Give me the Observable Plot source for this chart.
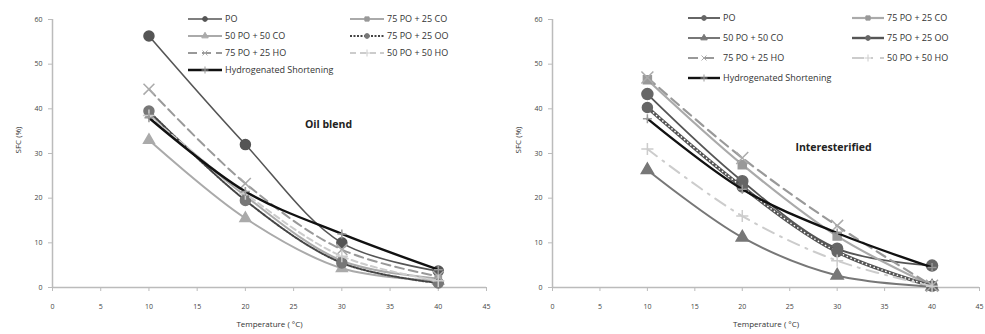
<!DOCTYPE html>
<html><head><meta charset="utf-8">
<script src="https://cdn.jsdelivr.net/npm/d3@7"></script>
<script src="https://cdn.jsdelivr.net/npm/@observablehq/plot@0.6"></script>
<style>
body{margin:0;background:#fff;overflow:hidden}
#wrap{position:relative;width:985px;height:334px;overflow:hidden;font-family:"Open Sans",sans-serif}
.panel{position:absolute;top:0}
#overlay{position:absolute;left:0;top:0}
</style></head><body><div id="wrap"></div>
<script>
// ---- data ----
const temps = [10, 20, 30, 40];
const xTicks = [0, 5, 10, 15, 20, 25, 30, 35, 40, 45];
const yTicks = [0, 10, 20, 30, 40, 50, 60];
const seriesNames = ["PO", "75 PO + 25 CO", "50 PO + 50 CO", "75 PO + 25 OO", "75 PO + 25 HO", "50 PO + 50 HO", "Hydrogenated Shortening"];
const panelTitles = ["Oil blend", "Interesterified"];
// Oil blend
const blendPO   = [56.3, 32.0, 10.0, 3.7];
const blend75CO = [39.0, 20.5, 6.0, 2.0];
const blend50CO = [33.0, 15.5, 4.3, 1.5];
const blend75OO = [39.5, 19.5, 5.5, 1.0];
const blend75HO = [44.4, 23.3, 8.5, 2.5];
const blend50HO = [38.5, 21.0, 7.0, 1.5];
const blendHS   = [38.0, 21.5, 12.0, 4.0];
// Interesterified
const interPO   = [43.3, 23.8, 8.7, 4.9];
const inter75CO = [46.5, 27.5, 11.5, 0.4];
const inter50CO = [26.3, 11.2, 2.7, 0.2];
const inter75OO = [40.3, 22.5, 8.0, 0.3];
const inter75HO = [47.0, 29.0, 13.8, 0.4];
const inter50HO = [31.0, 16.0, 6.0, 0.3];
const interHS   = [37.8, 22.0, 12.2, 4.5];

const blendValues = [blendPO, blend75CO, blend50CO, blend75OO, blend75HO, blend50HO, blendHS];
const interValues = [interPO, inter75CO, inter50CO, inter75OO, inter75HO, inter50HO, interHS];

// ---- styles ----
const blendStyles = [
  {color:"#555", w:1.6, symbol:"circle", r:5, fill:"#555"},
  {color:"#aaa", w:2, symbol:"square", r:3.5, fill:"#999"},
  {color:"#aaa", w:2, symbol:"triangle", r:4, fill:"#aaa"},
  {color:"#444", w:2, dash:"2,1.5", symbol:"circle", r:5, fill:"#777"},
  {color:"#999", w:2, dash:"9,5", symbol:"times", r:5, stroke:"#aaa"},
  {color:"#ccc", w:2, dash:"6,4", symbol:"plus", r:4, stroke:"#ccc"},
  {color:"#111", w:2.4, symbol:"plus", r:3, stroke:"#999"}
];
const interStyles = [
  {color:"#555", w:1.8, symbol:"circle", r:5.5, fill:"#666"},
  {color:"#aaa", w:2.2, symbol:"square", r:4.5, fill:"#999"},
  {color:"#777", w:2, symbol:"triangle", r:4.5, fill:"#777"},
  {color:"#555", w:3.5, over:true, symbol:"circle", r:5, fill:"#666"},
  {color:"#999", w:2.2, dash:"10,6", symbol:"times", r:5.5, stroke:"#aaa"},
  {color:"#ccc", w:2, dash:"12,7,2,7", symbol:"plus", r:4, stroke:"#ccc"},
  {color:"#111", w:2.4, symbol:"plus", r:3, stroke:"#999"}
];

function makePanel(values, styles, title, titleDx, titleDy, width, marginRight) {
  const marks = [
    Plot.ruleY([0], {stroke:"#bbb", strokeWidth:1.5}),
    Plot.ruleX([0], {stroke:"#bbb", strokeWidth:1.5}),
    Plot.axisX({ticks:xTicks, tickSize:4, tickPadding:13, stroke:"#bbb", fill:"#444", fontSize:7, label:null}),
    Plot.axisY({ticks:yTicks, tickSize:4, tickPadding:6, stroke:"#bbb", fill:"#444", fontSize:7, label:null}),
    Plot.text(["Temperature ( °C)"], {frameAnchor:"bottom", dy:39, fontSize:8, fill:"#333"}),
    Plot.text(["SFC (%)"], {frameAnchor:"left", dx:-34, rotate:-90, fontSize:8, fill:"#333"}),
    Plot.text([title], {frameAnchor:"top-left", dx:titleDx, dy:titleDy, fontSize:10.5, fontWeight:"bold", fill:"#222", textAnchor:"middle"})
  ];
  seriesNames.forEach((s, i) => {
    const st = styles[i];
    const d = temps.map((t, j) => ({t, v: values[i][j]}));
    marks.push(Plot.line(d, {x:"t", y:"v", curve:"catmull-rom", stroke:st.color, strokeWidth:st.w, strokeDasharray:st.dash}));
    if (st.over) marks.push(Plot.line(d, {x:"t", y:"v", curve:"catmull-rom", stroke:"white", strokeWidth:1.6, strokeDasharray:"0.1,4", strokeLinecap:"round"}));
    marks.push(Plot.dot(d, {x:"t", y:"v", symbol:st.symbol, r:st.r, fill:st.fill || "none", stroke:st.stroke || st.fill, strokeWidth:1.5}));
  });
  return Plot.plot({
    width, height:334, marginLeft:52, marginRight, marginTop:19, marginBottom:47,
    style:{fontFamily:"Open Sans, sans-serif", background:"white"},
    x:{domain:[0,45]}, y:{domain:[0,60]},
    marks
  });
}

const wrap = document.getElementById("wrap");
const p1 = makePanel(blendValues, blendStyles, panelTitles[0], 276, 101, 500, 14);
p1.classList.add("panel"); p1.style.left = "0px";
const p2 = makePanel(interValues, interStyles, panelTitles[1], 281, 124, 485, 6);
p2.classList.add("panel"); p2.style.left = "500px";
wrap.appendChild(p1); wrap.appendChild(p2);

// ---- legends ----
const svg = d3.select(wrap).append("svg").attr("id","overlay").attr("width",985).attr("height",334);
function legend(styles, cols, y0, dy) {
  seriesNames.forEach((s, i) => {
    const col = cols[i % 2], row = Math.floor(i / 2);
    const y = y0 + dy * row, st = styles[i];
    const g = svg.append("g");
    g.append("line").attr("x1", col[0]).attr("x2", col[1]).attr("y1", y).attr("y2", y)
      .attr("stroke", st.color).attr("stroke-width", Math.min(st.w, 2.4)).attr("stroke-dasharray", st.dash || null);
    const sym = {circle:d3.symbolCircle, square:d3.symbolSquare, triangle:d3.symbolTriangle, times:d3.symbolTimes, plus:d3.symbolPlus}[st.symbol];
    g.append("path").attr("d", d3.symbol(sym, 18)()).attr("transform", `translate(${(col[0]+col[1])/2},${y})`)
      .attr("fill", st.fill || "none").attr("stroke", st.stroke || st.fill).attr("stroke-width", 1);
    g.append("text").attr("x", col[1] + 3).attr("y", y).attr("dy", "0.35em").attr("font-size", 9)
      .attr("font-family", "Open Sans, sans-serif").attr("fill", "#333").text(s);
  });
}
legend(blendStyles, [[188, 222], [350, 384]], 19, 17);
legend(interStyles, [[688, 720], [852, 884]], 18, 20);
</script></body></html>
